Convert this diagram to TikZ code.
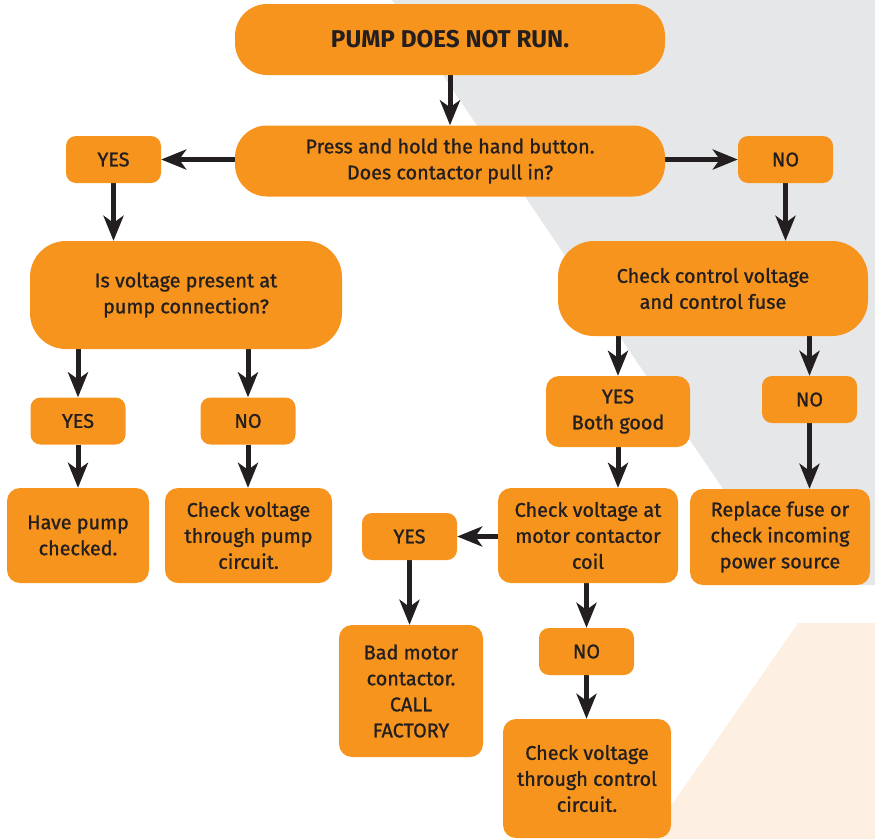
\documentclass[tikz,border=0pt]{standalone}
\usepackage{fontspec}
\setmainfont{Fira Sans}[UprightFeatures={FakeBold=1.1}]
\usetikzlibrary{arrows.meta}
\definecolor{pumporange}{HTML}{F7941D}
\definecolor{pumpink}{HTML}{231F20}
\definecolor{pumpgrey}{HTML}{E6E7E8}
\definecolor{pumpcream}{HTML}{FDF0E2}
\pgfdeclarelayer{backlayer}
\pgfdeclarelayer{edgelayer}
\pgfdeclarelayer{nodelayer}
\pgfsetlayers{backlayer,edgelayer,nodelayer,main}
\tikzset{font=\fontsize{19.8}{26}\selectfont}
\tikzstyle{pill}=[fill=pumporange,text=pumpink,align=center,inner sep=0pt,rounded corners=32pt]
\tikzstyle{card}=[fill=pumporange,text=pumpink,align=center,inner sep=0pt,rounded corners=13pt]
\tikzstyle{tag}=[card,minimum width=95pt,minimum height=47pt,rounded corners=10pt]
\tikzstyle{arrow}=[draw=pumpink,line width=5pt,-{Stealth[length=25pt,width=20pt,inset=7pt]}]

\begin{document}
\begin{tikzpicture}[x=1pt,y=-1pt]
	\useasboundingbox (0,0) rectangle (875,839);
	\begin{pgfonlayer}{backlayer}
		\fill [pumpgrey] (392,0) -- (875,0) -- (875,585) -- (788,585) -- cycle;
		\fill [pumpcream] (798,623) -- (875,623) -- (875,839) -- (648,839) -- cycle;
	\end{pgfonlayer}
	\begin{pgfonlayer}{nodelayer}
		\node [style=pill, minimum width=430pt, minimum height=71pt, font=\fontsize{24.3}{26}\bfseries] (0) at (450, 39.5) {PUMP DOES NOT RUN.};
		\node [style=pill, minimum width=430pt, minimum height=71pt] (1) at (450, 161) {Press and hold the hand button.\\Does contactor pull in?};
		\node [style=tag] (2) at (113.5, 159.5) {YES};
		\node [style=tag] (3) at (785.5, 159.5) {NO};
		\node [style=pill, minimum width=312pt, minimum height=108pt, rounded corners=36pt] (4) at (186, 295) {Is voltage present at\\pump connection?};
		\node [style=pill, minimum width=310pt, minimum height=95pt, rounded corners=36pt] (5) at (713, 288.5) {Check control voltage\\and control fuse};
		\node [style=tag] (6) at (78, 421) {YES};
		\node [style=tag] (7) at (248, 421) {NO};
		\node [style=card, minimum width=144pt, minimum height=71pt] (8) at (618, 411.5) {YES\\Both good};
		\node [style=tag] (9) at (809.5, 399.5) {NO};
		\node [style=card, minimum width=142pt, minimum height=95pt] (10) at (78, 535.5) {Have pump\\checked.};
		\node [style=card, minimum width=167pt, minimum height=95pt] (11) at (248.5, 535.5) {Check voltage\\through pump\\circuit.};
		\node [style=card, minimum width=180pt, minimum height=95pt] (12) at (588, 535.5) {Check voltage at\\motor contactor\\coil};
		\node [style=card, minimum width=180pt, minimum height=96pt] (13) at (780, 537) {Replace fuse or\\check incoming\\power source};
		\node [style=tag] (14) at (409.5, 536.5) {YES};
		\node [style=card, minimum width=144pt, minimum height=132pt] (15) at (411, 691) {Bad motor\\contactor.\\CALL\\FACTORY};
		\node [style=tag] (16) at (586.5, 651.5) {NO};
		\node [style=card, minimum width=168pt, minimum height=119pt] (17) at (587, 778.5) {Check voltage\\through control\\circuit.};
	\end{pgfonlayer}
	\begin{pgfonlayer}{edgelayer}
		\draw [style=arrow] (0) to (1);
		\draw [style=arrow] (1.west |- 2) to (2);
		\draw [style=arrow] (1.east |- 3) to (3);
		\draw [style=arrow] (2) to (2 |- 4.north);
		\draw [style=arrow] (3) to (3 |- 5.north);
		\draw [style=arrow] (4.south -| 6) to (6);
		\draw [style=arrow] (4.south -| 7) to (7);
		\draw [style=arrow] (5.south -| 8) to (8);
		\draw [style=arrow] (5.south -| 9) to (9);
		\draw [style=arrow] (6) to (10);
		\draw [style=arrow] (7) to (7 |- 11.north);
		\draw [style=arrow] (8) to (8 |- 12.north);
		\draw [style=arrow] (9) to (9 |- 13.north);
		\draw [style=arrow] (12.west |- 14) to (14);
		\draw [style=arrow] (12.south -| 16) to (16);
		\draw [style=arrow] (14) to (14 |- 15.north);
		\draw [style=arrow] (16) to (16 |- 17.north);
	\end{pgfonlayer}
\end{tikzpicture}
\end{document}
